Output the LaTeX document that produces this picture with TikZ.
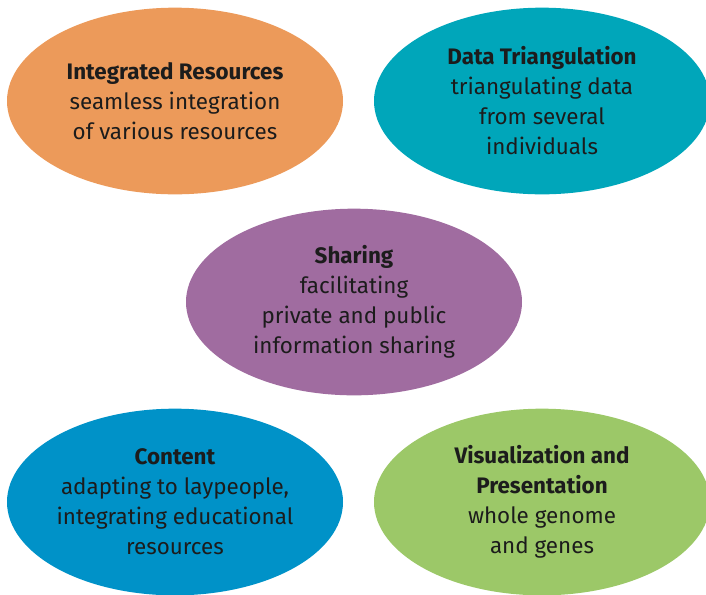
\documentclass[tikz,border=0pt]{standalone}
\usepackage{fontspec}
\setmainfont{Fira Sans}
\usetikzlibrary{shapes.geometric, positioning}
\definecolor{resorange}{HTML}{EC9A5A}
\definecolor{triteal}{HTML}{00A6BA}
\definecolor{sharepurple}{HTML}{A06CA0}
\definecolor{contblue}{HTML}{0092C8}
\definecolor{visgreen}{HTML}{9CC868}
\definecolor{inktext}{HTML}{1C1C1C}

\begin{document}
\begin{tikzpicture}[
    x=0.75pt, y=-0.75pt,
    every node/.style={font=\fontsize{16.8}{22.5}\selectfont, text=inktext},
    bubble/.style={ellipse, draw=none, inner sep=0pt,
                   minimum width=252pt, minimum height=140pt, align=center}
]
    \useasboundingbox (0,0) rectangle (706,594);

    \node[bubble, fill=resorange]   (res)  at (175,101) {\textbf{Integrated Resources}\\seamless integration\\of various resources};
    \node[bubble, fill=triteal]     (tri)  at (542,101) {\textbf{Data Triangulation}\\triangulating data\\from several\\individuals};
    \node[bubble, fill=sharepurple] (shr)  at (354,302) {\textbf{Sharing}\\facilitating\\private and public\\information sharing};
    \node[bubble, fill=contblue]    (cnt)  at (175,502) {\textbf{Content}\\adapting to laypeople,\\integrating educational\\resources};
    \node[bubble, fill=visgreen]    (vis)  at (542,502) {\textbf{Visualization and}\\\textbf{Presentation}\\whole genome\\and genes};
\end{tikzpicture}
\end{document}
